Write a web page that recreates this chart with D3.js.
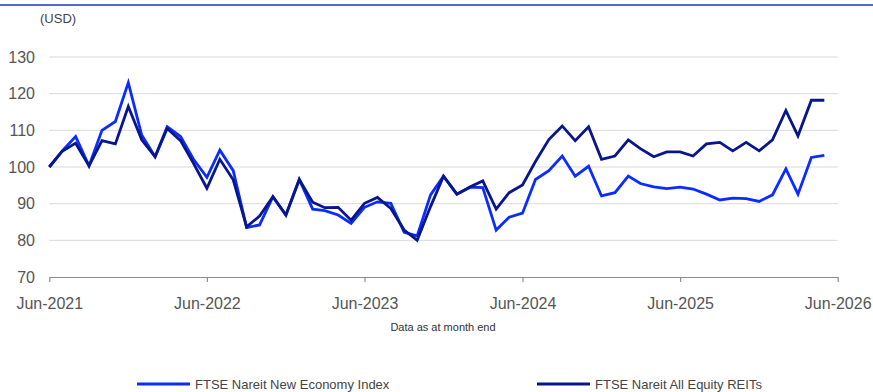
<!DOCTYPE html>
<html>
<head>
<meta charset="utf-8">
<script src="https://cdn.jsdelivr.net/npm/d3@7"></script>
<style>
  html, body { margin: 0; padding: 0; background: #fff; }
  svg { display: block; font-family: Arial, "Liberation Sans", sans-serif; }
</style>
</head>
<body>
<svg id="chart" width="873" height="392"></svg>
<script>
// ---- data (monthly, Jun-2021 .. May-2026) ----
const startMonth = "2021-06";
const newEconomy = [100, 104.4, 108.3, 100.3, 110, 112.4, 123, 108.7, 102.8, 111, 108.3, 102.1,
  97.2, 104.6, 99.0, 83.5, 84.2, 91.9, 86.9, 96.6, 88.5, 88.1, 86.9, 84.6,
  89.0, 90.5, 90.1, 82.2, 81.2, 92.4, 97.5, 92.6, 94.5, 94.4, 82.8, 86.3,
  87.4, 96.6, 99.0, 103.0, 97.5, 100.2, 92.1, 93.0, 97.5, 95.5, 94.6, 94.1,
  94.5, 94.0, 92.6, 91.0, 91.5, 91.4, 90.6, 92.4, 99.5, 92.6, 102.6, 103.2];
const allEquity = [100, 104.3, 106.5, 100.3, 107.2, 106.3, 116.5, 107.4, 102.8, 110.5, 107.2, 101.0,
  94.2, 102.1, 96.5, 83.7, 86.6, 91.9, 86.9, 96.6, 90.4, 88.9, 89.0, 85.5,
  90.1, 91.7, 88.7, 82.8, 80.0, 89.2, 97.5, 92.6, 94.6, 96.2, 88.5, 93.0,
  95.1, 101.5, 107.5, 111.2, 107.2, 111.0, 102.1, 103.0, 107.4, 105.0, 102.8, 104.1,
  104.1, 103.0, 106.3, 106.7, 104.4, 106.7, 104.4, 107.4, 115.4, 108.5, 118.2, 118.2];
const yTicks = [70, 80, 90, 100, 110, 120, 130];
const xTickLabels = ["Jun-2021", "Jun-2022", "Jun-2023", "Jun-2024", "Jun-2025", "Jun-2026"];
const seriesNames = ["FTSE Nareit New Economy Index", "FTSE Nareit All Equity REITs"];
const seriesColors = ["#0a2cff", "#08168c"];
const unitLabel = "(USD)";
const noteText = "Data as at month end";

// ---- build ----
const svg = d3.select("#chart");
const parseMonth = d3.utcParse("%Y-%m");
const parseTick = d3.utcParse("%b-%Y");
const start = parseMonth(startMonth);
const dates = newEconomy.map((_, i) => d3.utcMonth.offset(start, i));
const tickDates = xTickLabels.map(parseTick);

const x = d3.scaleUtc().domain([tickDates[0], tickDates[tickDates.length - 1]]).range([49.3, 837.7]);
const y = d3.scaleLinear().domain([70, 130]).range([277, 57]);

// top rule
svg.append("line").attr("x1", 0).attr("x2", 873).attr("y1", 5).attr("y2", 5)
  .attr("stroke", "#1b2fd3").attr("stroke-width", 1.3);

// gridlines
svg.append("g").selectAll("line").data(yTicks.filter(t => t > 70)).join("line")
  .attr("x1", x.range()[0]).attr("x2", x.range()[1])
  .attr("y1", d => y(d)).attr("y2", d => y(d))
  .attr("stroke", "#d9d9d9").attr("stroke-width", 1);

// y axis labels
const yAxis = d3.axisLeft(y).tickValues(yTicks).tickSize(0).tickPadding(0);
const gy = svg.append("g").attr("transform", "translate(35,0)").call(yAxis);
gy.select(".domain").remove();
gy.selectAll("text").attr("font-size", 16).attr("fill", "#555").attr("font-family", "Arial, 'Liberation Sans', sans-serif");

// x axis
const xAxis = d3.axisBottom(x).tickValues(tickDates).tickFormat(d3.utcFormat("%b-%Y")).tickSize(5).tickSizeOuter(0).tickPadding(16);
const gx = svg.append("g").attr("transform", `translate(0,${y(70)})`).call(xAxis);
gx.select(".domain").attr("stroke", "#8c8c8c").attr("stroke-width", 1.2);
gx.selectAll(".tick line").attr("stroke", "#8c8c8c").attr("stroke-width", 1.2);
gx.selectAll("text").attr("font-size", 16).attr("fill", "#555").attr("font-family", "Arial, 'Liberation Sans', sans-serif");

// unit label
svg.append("text").attr("x", 40).attr("y", 23).attr("font-size", 13).attr("fill", "#444").text(unitLabel);

// note
svg.append("text").attr("x", 443).attr("y", 331).attr("text-anchor", "middle")
  .attr("font-size", 11).attr("fill", "#333").text(noteText);

// lines
const line = d3.line().x((d, i) => x(dates[i])).y(d => y(d)).curve(d3.curveLinear);
[newEconomy, allEquity].forEach((s, k) => {
  svg.append("path").datum(s).attr("d", line).attr("fill", "none")
    .attr("stroke", seriesColors[k]).attr("stroke-width", 2.8).attr("stroke-linejoin", "miter");
});

// legend
const legendX = [137, 537];
seriesNames.forEach((name, k) => {
  const g = svg.append("g").attr("transform", `translate(${legendX[k]},384)`);
  g.append("line").attr("x1", 0).attr("x2", 53).attr("y1", 0).attr("y2", 0)
    .attr("stroke", seriesColors[k]).attr("stroke-width", 3);
  g.append("text").attr("x", 58).attr("y", 4.5).attr("font-size", 13).attr("fill", "#444").text(name);
});
</script>
</body>
</html>
